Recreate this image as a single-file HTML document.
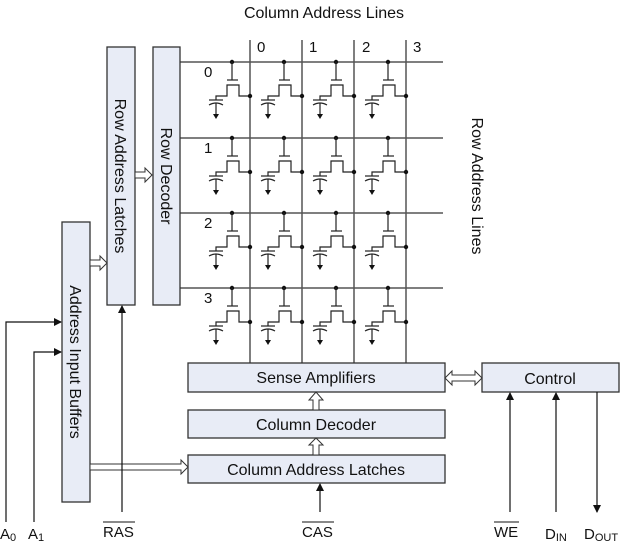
<!DOCTYPE html>
<html><head><meta charset="utf-8"><style>
html,body{margin:0;padding:0;background:#fff;}
svg{display:block;}
text{font-family:"Liberation Sans",Arial,sans-serif;fill:#111;}
</style></head><body>
<svg width="620" height="544" viewBox="0 0 620 544" xmlns="http://www.w3.org/2000/svg">
<defs>
<g id="cell" stroke="#222" stroke-width="1.2" fill="none">
  <circle cx="0" cy="0" r="2.2" fill="#111" stroke="none"/>
  <line x1="0" y1="0" x2="0" y2="18"/>
  <line x1="-5" y1="18" x2="6" y2="18"/>
  <polyline points="-16,38 -16,34 -5,34 -5,23 7,23 7,34 18,34"/>
  <circle cx="18" cy="34" r="2.2" fill="#111" stroke="none"/>
  <line x1="-23" y1="38" x2="-9" y2="38"/>
  <path d="M-23 43 Q-16 39 -9 43"/>
  <line x1="-16" y1="41" x2="-16" y2="52"/>
  <polygon points="-19,52 -13,52 -16,57" fill="#111" stroke="none"/>
</g>
<marker id="ar" markerWidth="8" markerHeight="8" refX="7" refY="4" orient="auto" markerUnits="userSpaceOnUse">
  <polygon points="0,0 8,4 0,8" fill="#111"/>
</marker>
</defs>

<text x="324" y="18" font-size="16" text-anchor="middle">Column Address Lines</text>
<text x="0" y="0" font-size="16" text-anchor="middle" transform="translate(472,186) rotate(90)">Row Address Lines</text>

<g stroke="#555" stroke-width="1.5">
<line x1="250" y1="40" x2="250" y2="363"/>
<line x1="302" y1="40" x2="302" y2="363"/>
<line x1="354" y1="40" x2="354" y2="363"/>
<line x1="406" y1="40" x2="406" y2="363"/>
<line x1="180" y1="62" x2="443" y2="62"/>
<line x1="180" y1="138" x2="443" y2="138"/>
<line x1="180" y1="213" x2="443" y2="213"/>
<line x1="180" y1="288" x2="443" y2="288"/>
</g>
<g font-size="15">
<text x="257" y="52">0</text><text x="309" y="52">1</text><text x="362" y="52">2</text><text x="413" y="52">3</text>
<text x="204" y="77">0</text><text x="204" y="153">1</text><text x="204" y="228">2</text><text x="204" y="303">3</text>
</g>

<use href="#cell" x="232" y="62"/><use href="#cell" x="284" y="62"/><use href="#cell" x="336" y="62"/><use href="#cell" x="388" y="62"/>
<use href="#cell" x="232" y="138"/><use href="#cell" x="284" y="138"/><use href="#cell" x="336" y="138"/><use href="#cell" x="388" y="138"/>
<use href="#cell" x="232" y="213"/><use href="#cell" x="284" y="213"/><use href="#cell" x="336" y="213"/><use href="#cell" x="388" y="213"/>
<use href="#cell" x="232" y="288"/><use href="#cell" x="284" y="288"/><use href="#cell" x="336" y="288"/><use href="#cell" x="388" y="288"/>

<g fill="#e8ecf6" stroke="#333" stroke-width="1.3">
<rect x="62" y="222" width="28" height="280"/>
<rect x="107" y="47" width="28" height="258"/>
<rect x="153" y="47" width="27" height="258"/>
<rect x="188" y="363" width="257" height="29"/>
<rect x="188" y="410" width="257" height="28"/>
<rect x="188" y="455" width="257" height="28"/>
<rect x="482" y="363" width="137" height="29"/>
</g>
<g font-size="16">
<text transform="translate(70,362) rotate(90)" text-anchor="middle">Address Input Buffers</text>
<text transform="translate(115,176) rotate(90)" text-anchor="middle">Row Address Latches</text>
<text transform="translate(161,176) rotate(90)" text-anchor="middle">Row Decoder</text>
<text x="316" y="383" text-anchor="middle">Sense Amplifiers</text>
<text x="316" y="430" text-anchor="middle">Column Decoder</text>
<text x="316" y="475" text-anchor="middle">Column Address Latches</text>
<text x="550" y="384" text-anchor="middle">Control</text>
</g>

<g fill="#fff" stroke="#333" stroke-width="1">
<polygon points="135,172 145,172 145,168 152,175 145,182 145,178 135,178"/>
<polygon points="90,260 100,260 100,256 107,263 100,270 100,266 90,266"/>
<polygon points="90,464 181,464 181,460 188,467 181,474 181,470 90,470"/>
<polygon points="313,455 313,445 309,445 316,438 323,445 319,445 319,455"/>
<polygon points="313,410 313,400 309,400 316,392 323,400 319,400 319,410"/>
<polygon points="445,378 452,371 452,375 475,375 475,371 482,378 475,385 475,381 452,381 452,385"/>
</g>

<g stroke="#111" stroke-width="1.2" fill="none">
<polyline points="6,522 6,322 61,322" marker-end="url(#ar)"/>
<polyline points="34,522 34,352 61,352" marker-end="url(#ar)"/>
<line x1="122" y1="512" x2="122" y2="306" marker-end="url(#ar)"/>
<line x1="320" y1="512" x2="320" y2="484" marker-end="url(#ar)"/>
<line x1="510" y1="512" x2="510" y2="393" marker-end="url(#ar)"/>
<line x1="556" y1="512" x2="556" y2="393" marker-end="url(#ar)"/>
<line x1="597" y1="392" x2="597" y2="512" marker-end="url(#ar)"/>
</g>

<g font-size="15">
<text x="0" y="539">A<tspan font-size="11" dy="2">0</tspan></text>
<text x="28" y="539">A<tspan font-size="11" dy="2">1</tspan></text>
<text x="103" y="537">RAS</text><line x1="103" y1="522" x2="135" y2="522" stroke="#111" stroke-width="1"/>
<text x="302" y="537">CAS</text><line x1="302" y1="522" x2="334" y2="522" stroke="#111" stroke-width="1"/>
<text x="494" y="537">WE</text><line x1="494" y1="522" x2="519" y2="522" stroke="#111" stroke-width="1"/>
<text x="545" y="539">D<tspan font-size="11" dy="2">IN</tspan></text>
<text x="584" y="539">D<tspan font-size="11" dy="2">OUT</tspan></text>
</g>
</svg>
</body></html>
